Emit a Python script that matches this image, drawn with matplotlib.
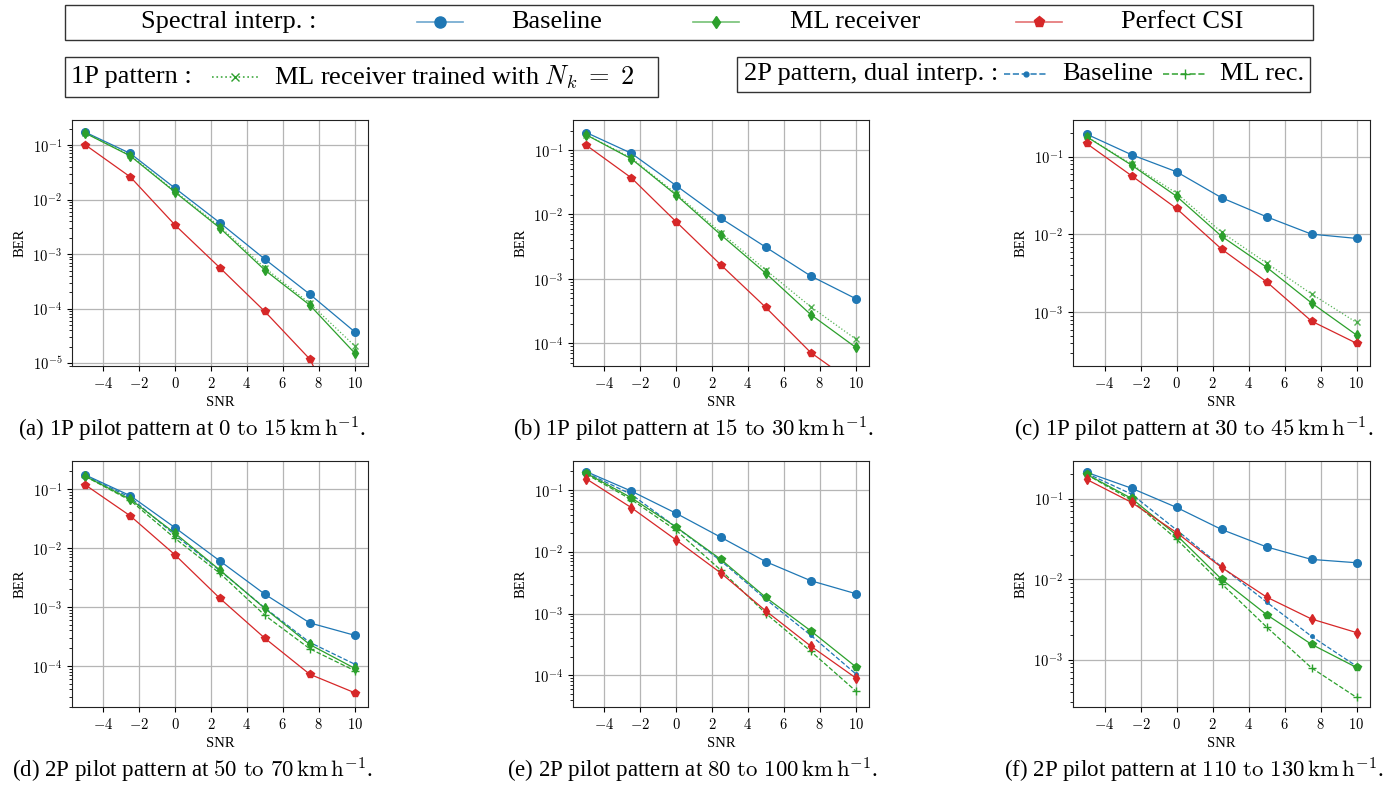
import numpy as np
import matplotlib
matplotlib.use("Agg")
import matplotlib.pyplot as plt
from matplotlib.lines import Line2D
from matplotlib.ticker import FuncFormatter, LogLocator, NullFormatter
from matplotlib.offsetbox import TextArea, DrawingArea, HPacker, AnchoredOffsetbox

# --- data (BER) ---
snr = [-5, -2.5, 0, 2.5, 5, 7.5, 10]

base_a = [0.171, 0.070, 0.0161, 0.00374, 8.1e-4, 1.85e-4, 3.8e-5]
ml_a = [0.164, 0.063, 0.0136, 0.0030, 5.1e-4, 1.17e-4, 1.55e-5]
mlnk_a = [0.166, 0.065, 0.0141, 0.0032, 5.6e-4, 1.26e-4, 2.1e-5]
csi_a = [0.100, 0.026, 0.0034, 5.6e-4, 8.9e-5, 1.2e-5, 3e-7]

base_b = [0.186, 0.089, 0.028, 0.0087, 0.0031, 1.11e-3, 4.95e-4]
ml_b = [0.171, 0.073, 0.020, 0.0048, 0.00122, 2.8e-4, 8.7e-5]
mlnk_b = [0.173, 0.075, 0.021, 0.0052, 0.00137, 3.7e-4, 1.17e-4]
csi_b = [0.118, 0.037, 0.0077, 0.00164, 3.6e-4, 7.2e-5, 2.3e-5]

base_c = [0.195, 0.106, 0.064, 0.0297, 0.0169, 0.0101, 0.0089]
ml_c = [0.181, 0.078, 0.031, 0.0095, 0.0038, 0.00132, 5.1e-4]
mlnk_c = [0.182, 0.080, 0.034, 0.0107, 0.0043, 0.00172, 7.4e-4]
csi_c = [0.148, 0.057, 0.0216, 0.0065, 0.00247, 7.7e-4, 4.0e-4]

base_d = [0.173, 0.077, 0.022, 0.0060, 0.00164, 5.35e-4, 3.3e-4]
ml_d = [0.164, 0.067, 0.0177, 0.0042, 9.4e-4, 2.3e-4, 9.1e-5]
csi_d = [0.117, 0.035, 0.0076, 0.00139, 2.94e-4, 7.2e-5, 3.5e-5]
base2_d = [0.168, 0.072, 0.0165, 0.0041, 9.6e-4, 2.5e-4, 1.07e-4]
ml2_d = [0.163, 0.064, 0.0145, 0.0037, 7.2e-4, 1.95e-4, 8.3e-5]

base_e = [0.198, 0.096, 0.0419, 0.0171, 0.0069, 0.0034, 0.0021]
ml_e = [0.186, 0.075, 0.0251, 0.0075, 0.00182, 5.25e-4, 1.38e-4]
csi_e = [0.151, 0.0518, 0.0155, 0.0045, 0.0011, 2.97e-4, 9.1e-5]
base2_e = [0.190, 0.085, 0.025, 0.0071, 0.0017, 4.45e-4, 1.06e-4]
ml2_e = [0.180, 0.070, 0.0222, 0.0050, 0.0010, 2.45e-4, 5.6e-5]

base_f = [0.213, 0.135, 0.078, 0.0415, 0.0252, 0.0176, 0.016]
ml_f = [0.201, 0.101, 0.0353, 0.0100, 0.00363, 0.00155, 8.0e-4]
csi_f = [0.174, 0.090, 0.038, 0.014, 0.0060, 0.0032, 0.00217]
base2_f = [0.207, 0.114, 0.041, 0.0143, 0.0052, 0.00195, 8.3e-4]
ml2_f = [0.200, 0.096, 0.0315, 0.0088, 0.00255, 7.9e-4, 3.4e-4]

captions = [
    r"(a) 1P pilot pattern at $0\ \mathrm{to}\ 15\,\mathrm{km\,h^{-1}}$.",
    r"(b) 1P pilot pattern at $15\ \mathrm{to}\ 30\,\mathrm{km\,h^{-1}}$.",
    r"(c) 1P pilot pattern at $30\ \mathrm{to}\ 45\,\mathrm{km\,h^{-1}}$.",
    r"(d) 2P pilot pattern at $50\ \mathrm{to}\ 70\,\mathrm{km\,h^{-1}}$.",
    r"(e) 2P pilot pattern at $80\ \mathrm{to}\ 100\,\mathrm{km\,h^{-1}}$.",
    r"(f) 2P pilot pattern at $110\ \mathrm{to}\ 130\,\mathrm{km\,h^{-1}}$.",
]

# --- style ---
plt.rcParams['font.family'] = ['Liberation Serif', 'DejaVu Serif']
plt.rcParams['mathtext.fontset'] = 'cm'

C_BLUE, C_GREEN, C_RED = '#1f77b4', '#2ca02c', '#d62728'
LW = 0.9

W, H = 1395, 785
fig = plt.figure(figsize=(W / 100, H / 100), dpi=100)


def px_axes(x0, y0, x1, y1):
    return fig.add_axes([x0 / W, 1 - y1 / H, (x1 - x0) / W, (y1 - y0) / H])


col_x = [(72, 368), (573, 869), (1073, 1370)]
row_y = [(120, 366), (461, 707)]
ylims = [(8.93e-6, 0.287), (4.45e-5, 0.292), (2.04e-4, 0.296),
         (2.0e-5, 0.299), (3.06e-5, 0.295), (2.58e-4, 0.294)]
cap_y = [429, 770]

top_sets = [(base_a, ml_a, mlnk_a, csi_a), (base_b, ml_b, mlnk_b, csi_b),
            (base_c, ml_c, mlnk_c, csi_c)]
bot_sets = [(base_d, ml_d, csi_d, base2_d, ml2_d), (base_e, ml_e, csi_e, base2_e, ml2_e),
            (base_f, ml_f, csi_f, base2_f, ml2_f)]
# markers of ML receiver / perfect CSI differ in (e), (f)
bot_markers = [('d', 'p'), ('p', 'd'), ('p', 'd')]


def style_axis(ax, ylim):
    ax.set_yscale('log')
    ax.set_xlim(-5.75, 10.75)
    ax.set_ylim(*ylim)
    ax.set_xticks([-4, -2, 0, 2, 4, 6, 8, 10])
    ax.xaxis.set_major_formatter(FuncFormatter(lambda v, p: f'${v:.0f}$'))
    ax.yaxis.set_major_locator(LogLocator(base=10))
    ax.yaxis.set_minor_locator(LogLocator(base=10, subs=np.arange(2, 10)))
    ax.yaxis.set_major_formatter(FuncFormatter(lambda v, p: f'$10^{{{int(round(np.log10(v)))}}}$'))
    ax.yaxis.set_minor_formatter(NullFormatter())
    ax.grid(True, which='major', color='#b5b5b5', lw=0.9)
    ax.tick_params(labelsize=10.5, length=3.5, width=0.8)
    ax.tick_params(which='minor', length=2, width=0.6)
    for sp in ax.spines.values():
        sp.set_color('#222222')
        sp.set_linewidth(0.8)
    ax.set_xlabel('SNR', fontsize=10.5)
    ax.set_ylabel('BER', fontsize=10.5)


for i in range(6):
    r, c = divmod(i, 3)
    (x0, x1), (y0, y1) = col_x[c], row_y[r]
    ax = px_axes(x0, y0, x1, y1)
    if r == 0:
        base, ml, mlnk, csi = top_sets[c]
        ax.plot(snr, base, color=C_BLUE, lw=LW, marker='o', ms=5.5)
        ax.plot(snr, mlnk, color=C_GREEN, lw=LW, ls=':', marker='x', ms=4, alpha=0.8)
        ax.plot(snr, ml, color=C_GREEN, lw=LW, marker='d', ms=5)
        ax.plot(snr, csi, color=C_RED, lw=LW, marker='p', ms=5.5)
    else:
        base, ml, csi, base2, ml2 = bot_sets[c]
        m_ml, m_csi = bot_markers[c]
        ax.plot(snr, base, color=C_BLUE, lw=LW, marker='o', ms=5.5)
        ax.plot(snr, base2, color=C_BLUE, lw=LW, ls='--', marker='.', ms=5)
        ax.plot(snr, ml2, color=C_GREEN, lw=LW, ls='--', marker='+', ms=6)
        ax.plot(snr, ml, color=C_GREEN, lw=LW, marker=m_ml, ms=5.5 if m_ml == 'p' else 5)
        ax.plot(snr, csi, color=C_RED, lw=LW, marker=m_csi, ms=5.5 if m_csi == 'p' else 5)
    style_axis(ax, ylims[i])
    fig.text(((x0 + x1) / 2 - 28) / W, 1 - cap_y[r] / H, captions[i],
             ha='center', va='center', fontsize=16.5)

# --- legends (built from offset boxes so gaps match the reference) ---
LEG_FS = 19
PT = 0.72  # points per pixel at dpi 100


def spacer(px):
    return DrawingArea(px * PT, 1, 0, 0)


def handle_area(color, ls, marker, ms, width_px=46, alpha=0.65):
    w = width_px * PT
    da = DrawingArea(w, 14, 0, 0)
    da.add_artist(Line2D([0, w], [7, 7], color=color, ls=ls, lw=1.2, alpha=alpha))
    da.add_artist(Line2D([w / 2], [7], color=color, marker=marker, ms=ms, lw=0))
    return da


def text_area(s):
    return TextArea(s, textprops=dict(fontsize=LEG_FS))


def boxed(children, loc, anchor):
    pack = HPacker(children=children, align='center', pad=0, sep=0)
    box = AnchoredOffsetbox(loc=loc, child=pack, pad=0.45, borderpad=0, frameon=True,
                            bbox_to_anchor=anchor, bbox_transform=fig.transFigure)
    box.patch.set_boxstyle('square,pad=0')
    box.patch.set_edgecolor('#333333')
    box.patch.set_linewidth(1.0)
    fig.add_artist(box)
    return box


boxed([spacer(70), text_area('Spectral interp. :'), spacer(100),
       handle_area(C_BLUE, '-', 'o', 8), spacer(49), text_area('Baseline'), spacer(90),
       handle_area(C_GREEN, '-', 'd', 6.5), spacer(51), text_area('ML receiver'), spacer(96),
       handle_area(C_RED, '-', 'p', 8), spacer(59), text_area('Perfect CSI'), spacer(63)],
      'upper left', (65 / W, 1 - 5 / H))

boxed([text_area('1P pattern :'), spacer(20), handle_area(C_GREEN, ':', 'x', 6, 46, 0.9),
       spacer(16), text_area(r'ML receiver trained with $N_k\;=\;2$'), spacer(18)],
      'upper left', (65 / W, 1 - 57 / H))
boxed([text_area('2P pattern, dual interp. :'), spacer(6),
       handle_area(C_BLUE, '--', '.', 7, 44, 0.9), spacer(14), text_area('Baseline'),
       spacer(10), handle_area(C_GREEN, '--', '+', 7, 44, 0.9), spacer(13),
       text_area('ML rec.')],
      'upper right', (1310 / W, 1 - 57 / H))

fig.savefig('out.png', dpi=100)
